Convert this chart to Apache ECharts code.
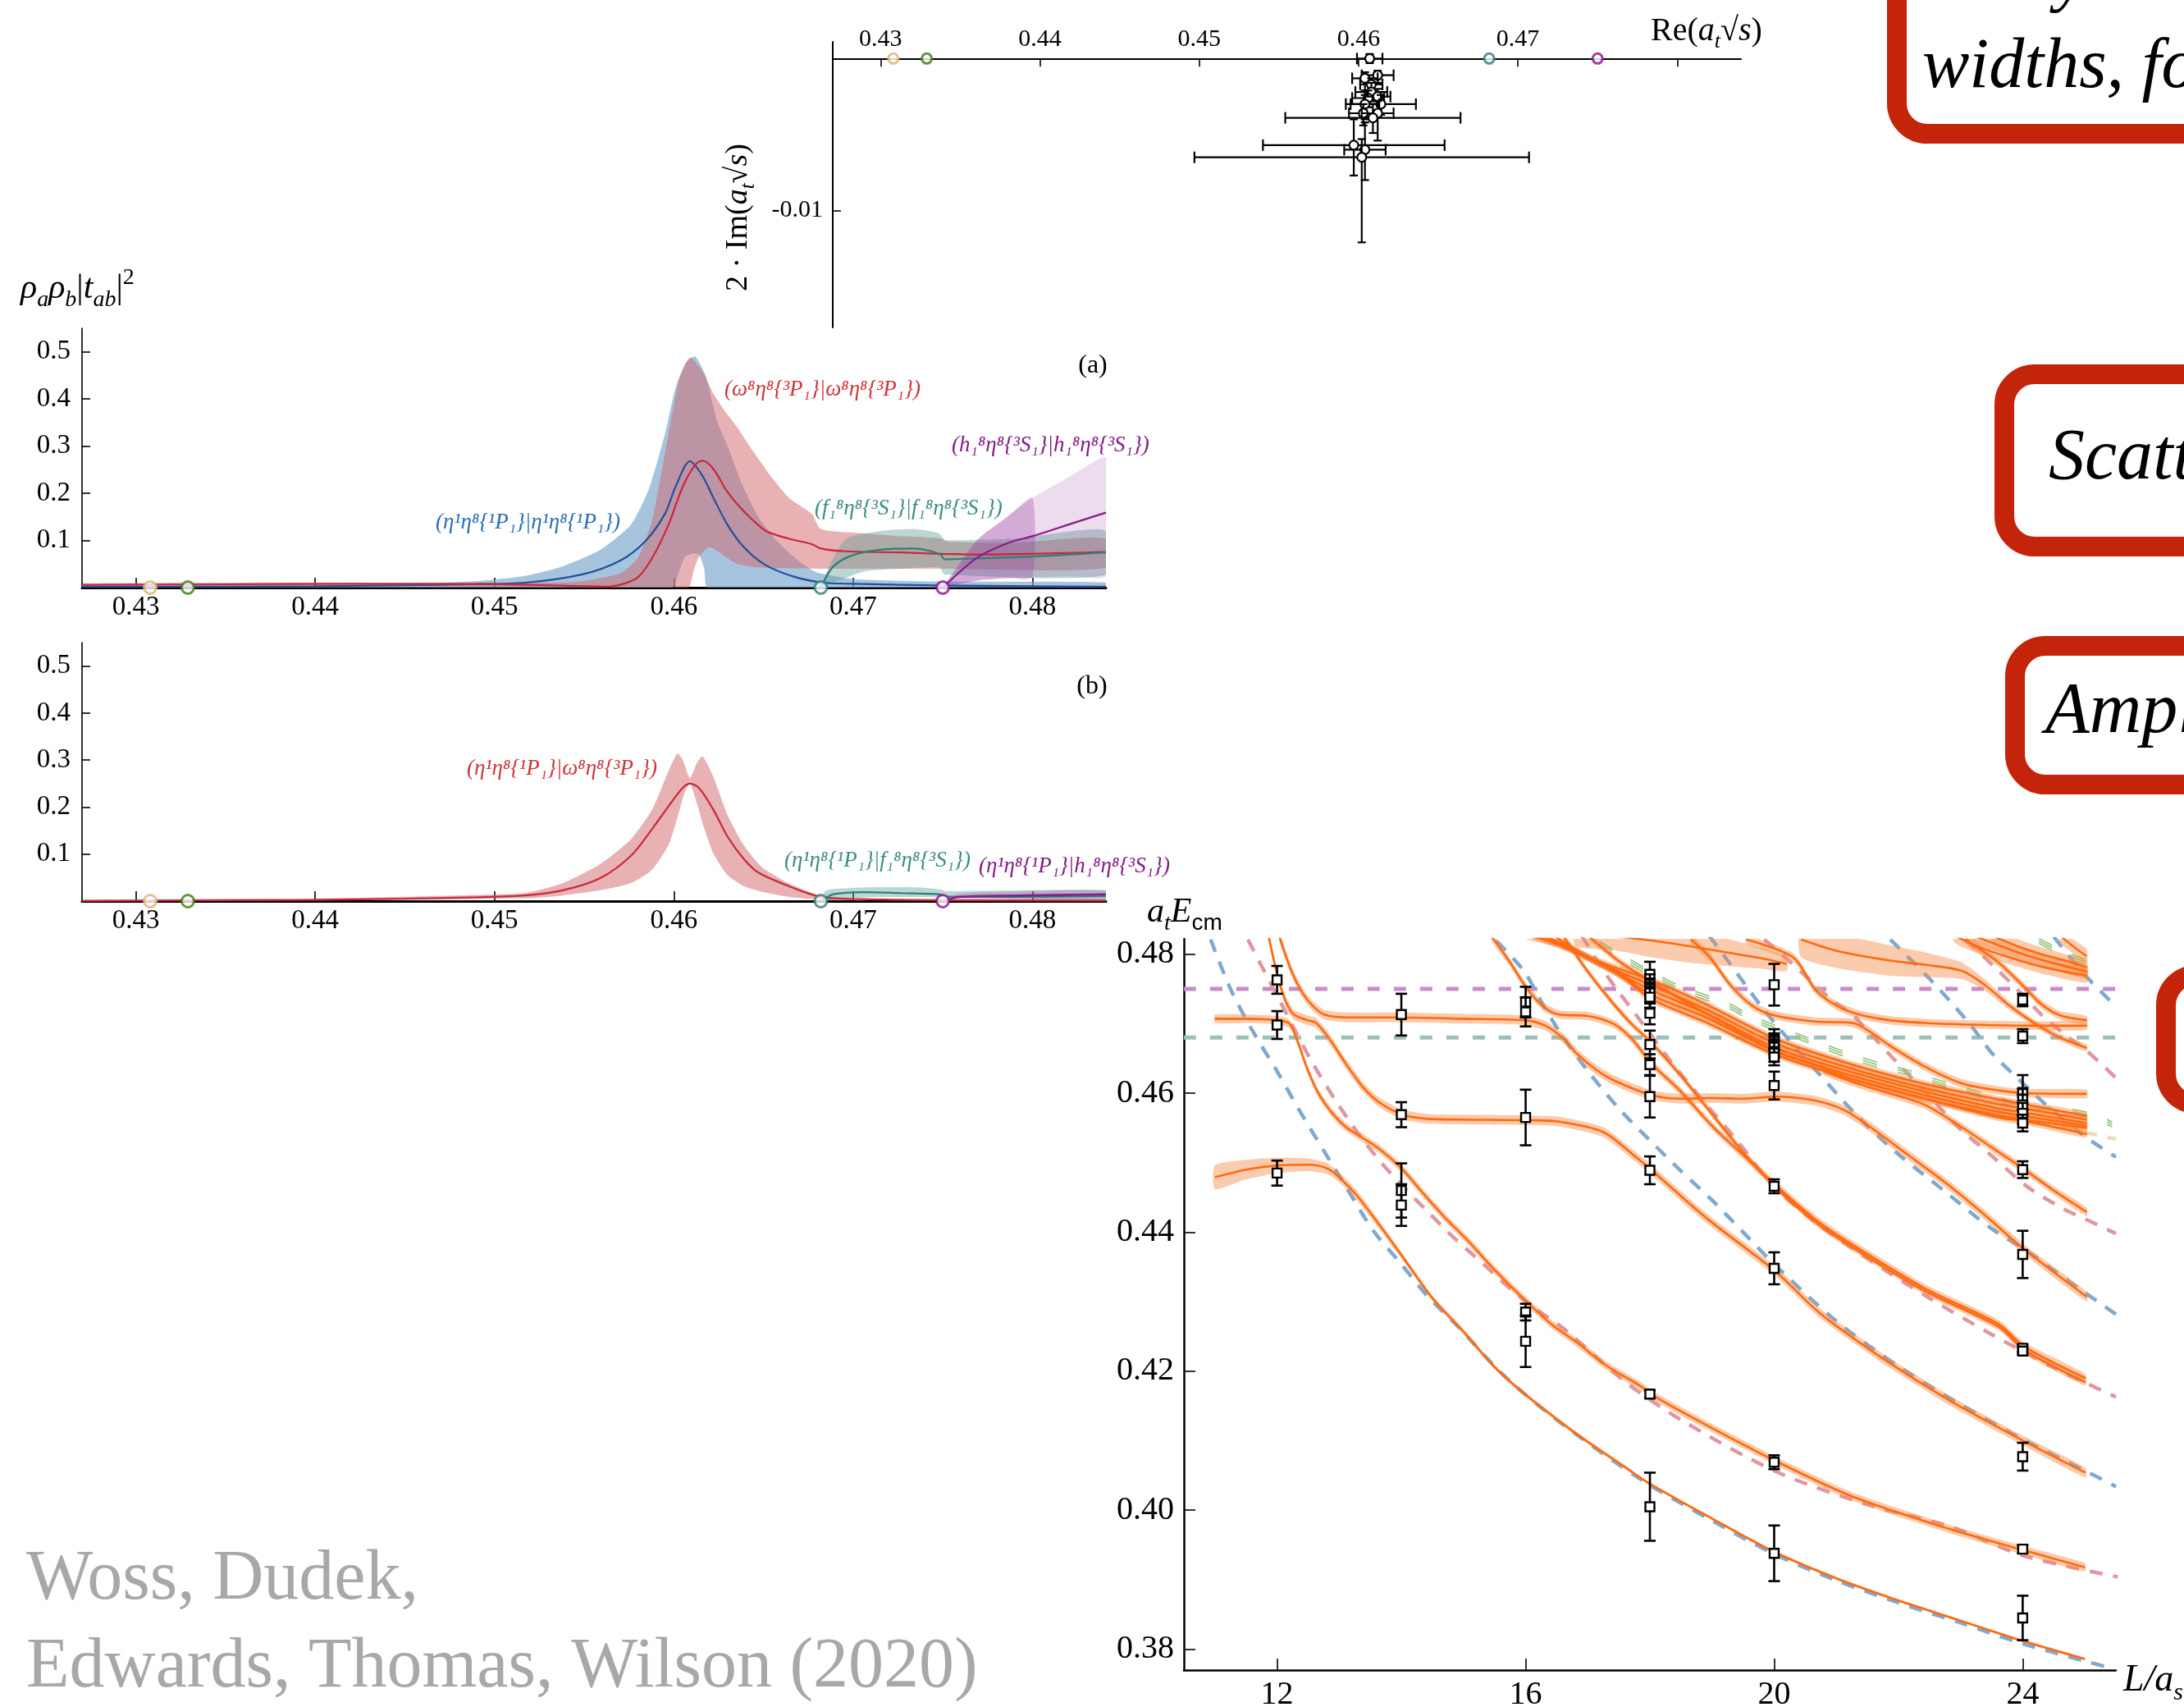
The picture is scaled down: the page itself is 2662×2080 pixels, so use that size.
<!DOCTYPE html>
<html><head><meta charset="utf-8">
<script src="https://cdn.jsdelivr.net/npm/echarts@6/dist/echarts.min.js"></script>
<style>html,body{margin:0;padding:0;background:#fff}#c{width:2662px;height:2080px}</style>
</head><body><div id="c"></div>
<script>
const FONT = "'Liberation Serif','DejaVu Serif',serif";

// ---------- pole plot (top) ----------
const poleRe      = [0.4607, 0.4612, 0.4604, 0.4608, 0.4608, 0.4606, 0.4612, 0.4614, 0.4604, 0.4603, 0.4612, 0.4609, 0.4597, 0.4604, 0.4602];
const poleIm      = [0, -0.0011, -0.0013, -0.0017, -0.0022, -0.0026, -0.0025, -0.0030, -0.0030, -0.0036, -0.0036, -0.0039, -0.0057, -0.0060, -0.0065];
const poleReErr   = [0.0008, 0.0010, 0.0008, 0.0007, 0.0010, 0.0010, 0.0008, 0.0022, 0.0009, 0.0009, 0.0010, 0.0055, 0.0057, 0.0013, 0.0105];
const poleImErrUp = [0.0003, 0.0003, 0.0004, 0.0004, 0.0006, 0.0005, 0.0005, 0.0006, 0.0006, 0.0006, 0.0008, 0.0009, 0.0017, 0.0018, 0.0012];
const poleImErrDn = [0.0003, 0.0005, 0.0008, 0.0005, 0.0006, 0.0006, 0.0005, 0.0007, 0.0010, 0.0008, 0.0018, 0.0010, 0.0020, 0.0020, 0.0056];
const poleTicks   = [0.43, 0.44, 0.45, 0.46, 0.47, 0.48];
const poleLabels  = [0.43, 0.44, 0.45, 0.46, 0.47];

// thresholds
const thrX      = [0.4308, 0.4329, 0.4682, 0.4750];
const thrColors = ['#dcb36e', '#3c7a10', '#2e7d7a', '#8c0f8c'];

// ---------- panel (a) ----------
const aBlueLineX = [0.427, 0.435, 0.440, 0.445, 0.4485, 0.4517, 0.4549, 0.4570, 0.4584, 0.4595, 0.4601, 0.4609, 0.4616, 0.4622, 0.4630, 0.4639, 0.4651, 0.4668, 0.4685, 0.4706, 0.4748, 0.4800, 0.4841];
const aBlueLineY = [0.002, 0.002, 0.003, 0.005, 0.007, 0.0104, 0.028, 0.057, 0.098, 0.156, 0.214, 0.268, 0.237, 0.191, 0.133, 0.086, 0.048, 0.022, 0.010, 0.0076, 0.0047, 0.003, 0.002];
const aBlueUpX = [0.427, 0.440, 0.445, 0.449, 0.4517, 0.4538, 0.4559, 0.4576, 0.4586, 0.4595, 0.4601, 0.4607, 0.4612, 0.4618, 0.4624, 0.4630, 0.4638, 0.4647, 0.4655, 0.4664, 0.4672, 0.4680, 0.4700, 0.4750, 0.4841];
const aBlueUpY = [0.004, 0.005, 0.008, 0.014, 0.025, 0.045, 0.080, 0.133, 0.208, 0.325, 0.424, 0.478, 0.490, 0.447, 0.354, 0.300, 0.220, 0.150, 0.110, 0.075, 0.050, 0.032, 0.018, 0.013, 0.011];
const aBlueLoX = [0.427, 0.4599, 0.4603, 0.4606, 0.4610, 0.4614, 0.4617, 0.4619, 0.4841];
const aBlueLoY = [0, 0, 0.035, 0.065, 0.072, 0.070, 0.040, 0, 0];
const aRedLineX = [0.427, 0.435, 0.4418, 0.4470, 0.4514, 0.4550, 0.4563, 0.4572, 0.4580, 0.4588, 0.4597, 0.4605, 0.4612, 0.4616, 0.4622, 0.4630, 0.4639, 0.4651, 0.4664, 0.4677, 0.4682, 0.4696, 0.4727, 0.4750, 0.4769, 0.4841];
const aRedLineY = [0.006, 0.007, 0.008, 0.008, 0.0064, 0.003, 0.002, 0.008, 0.022, 0.063, 0.133, 0.214, 0.261, 0.269, 0.252, 0.2025, 0.162, 0.121, 0.104, 0.092, 0.083, 0.077, 0.0745, 0.0716, 0.0704, 0.0756];
const aRedUpX = [0.427, 0.440, 0.450, 0.4545, 0.4570, 0.4580, 0.4588, 0.4597, 0.4603, 0.4609, 0.4616, 0.4622, 0.4628, 0.4635, 0.4643, 0.4654, 0.4664, 0.4677, 0.4681, 0.4685, 0.4706, 0.4727, 0.4750, 0.4752, 0.4790, 0.4841];
const aRedUpY = [0.009, 0.011, 0.010, 0.012, 0.030, 0.063, 0.144, 0.325, 0.441, 0.488, 0.458, 0.412, 0.377, 0.342, 0.296, 0.237, 0.191, 0.156, 0.127, 0.121, 0.115, 0.109, 0.104, 0.098, 0.095, 0.104];
const aRedLoX = [0.427, 0.440, 0.450, 0.4545, 0.4608, 0.4611, 0.4614, 0.4620, 0.4635, 0.4650, 0.4680, 0.4750, 0.4841];
const aRedLoY = [0.003, 0.004, 0.002, 0.0, 0.0, 0.035, 0.065, 0.086, 0.051, 0.042, 0.040, 0.040, 0.042];
const aTealLineX = [0.4682, 0.4689, 0.4700, 0.4717, 0.4733, 0.4744, 0.4749, 0.4751, 0.4769, 0.4800, 0.4841];
const aTealLineY = [0.0, 0.045, 0.069, 0.081, 0.083, 0.077, 0.069, 0.060, 0.062, 0.066, 0.0745];
const aTealUpX = [0.4682, 0.4686, 0.4696, 0.4717, 0.4735, 0.4748, 0.4751, 0.4790, 0.4841];
const aTealUpY = [0, 0.040, 0.1035, 0.121, 0.124, 0.115, 0.101, 0.104, 0.121];
const aTealLoX = [0.4682, 0.4706, 0.4727, 0.4748, 0.4751, 0.4841];
const aTealLoY = [0, 0.034, 0.040, 0.043, 0.028, 0.027];
const aPurpLineX = [0.4750, 0.4769, 0.4786, 0.4800, 0.4822, 0.4841];
const aPurpLineY = [0, 0.063, 0.094, 0.109, 0.136, 0.159];
const aPurpUpX = [0.4750, 0.4769, 0.4786, 0.4800, 0.4822, 0.4841];
const aPurpUpY = [0, 0.100, 0.150, 0.190, 0.238, 0.275];
const aPurpLoY = [0, 0.015, 0.020, 0.022, 0.024, 0.025];
const aPurpDarkX = [0.4750, 0.4769, 0.4786, 0.4800];
const aPurpDarkUp = [0, 0.100, 0.150, 0.190];
const aPurpDarkLo = [0, 0.015, 0.020, 0.022];

// ---------- panel (b) ----------
const bRedLineX = [0.427, 0.440, 0.445, 0.449, 0.4517, 0.4538, 0.4559, 0.4576, 0.4588, 0.4599, 0.4605, 0.4609, 0.4614, 0.4622, 0.4630, 0.4639, 0.4647, 0.4664, 0.4682, 0.4706, 0.4751, 0.4841];
const bRedLineY = [0.0005, 0.003, 0.005, 0.008, 0.012, 0.023, 0.049, 0.096, 0.154, 0.212, 0.241, 0.250, 0.241, 0.195, 0.137, 0.090, 0.061, 0.032, 0.009, 0.004, 0.002, 0.001];
const bRedUpX = [0.4361, 0.440, 0.445, 0.449, 0.4517, 0.4538, 0.4559, 0.4576, 0.4588, 0.4597, 0.4602, 0.4605, 0.4609, 0.4613, 0.4616, 0.4622, 0.4630, 0.4639, 0.4649, 0.4664, 0.4682, 0.4706];
const bRedUpY = [0.001, 0.005, 0.009, 0.013, 0.017, 0.038, 0.079, 0.131, 0.195, 0.276, 0.314, 0.300, 0.262, 0.294, 0.308, 0.265, 0.183, 0.119, 0.073, 0.038, 0.012, 0.004];
const bRedLoX = [0.4361, 0.4517, 0.4538, 0.4559, 0.4576, 0.4588, 0.4597, 0.4602, 0.4606, 0.4609, 0.4613, 0.4616, 0.4622, 0.4630, 0.4639, 0.4649, 0.4664, 0.4682, 0.4706];
const bRedLoY = [0, 0.006, 0.012, 0.023, 0.038, 0.067, 0.119, 0.177, 0.230, 0.250, 0.207, 0.166, 0.102, 0.055, 0.032, 0.020, 0.009, 0.003, 0.001];
const bTealLineX = [0.4682, 0.4689, 0.4706, 0.4727, 0.4748, 0.4751, 0.4790, 0.4841];
const bTealLineY = [0, 0.0145, 0.019, 0.017, 0.0145, 0.010, 0.009, 0.0105];
const bTealUpX = [0.4682, 0.4685, 0.4706, 0.4737, 0.4749, 0.4751, 0.4841];
const bTealUpY = [0, 0.023, 0.029, 0.029, 0.025, 0.0215, 0.023];
const bTealLoX = [0.4682, 0.4706, 0.4748, 0.4841];
const bTealLoY = [0, 0.008, 0.008, 0.003];
const bPurpLineX = [0.4750, 0.4759, 0.4790, 0.4841];
const bPurpLineY = [0, 0.0087, 0.0116, 0.0145];
const bPurpUpY = [0, 0.016, 0.020, 0.023];
const bPurpLoY = [0, 0.003, 0.004, 0.003];
const panelTicks = [0.43, 0.44, 0.45, 0.46, 0.47, 0.48];
const panelYTicks = [0.1, 0.2, 0.3, 0.4, 0.5];

// ---------- energy levels (bottom right) ----------
const eYTicks = [0.38, 0.40, 0.42, 0.44, 0.46, 0.48];
const eXTicks = [12, 16, 20, 24];
const epL = [12,12,12, 14,14,14,14, 16,16,16,16,16, 18,18,18,18,18,18,18,18,18,18,18,18, 20,20,20,20,20,20,20,20,20,20,20, 24,24,24,24,24,24,24,24,24,24,24,24,24,24];
const epE = [0.4763,0.4698,0.4485, 0.4713,0.4569,0.4460,0.4439, 0.4731,0.4717,0.4565,0.4285,0.4243, 0.4771,0.4756,0.4750,0.4744,0.4738,0.4715,0.4670,0.4641,0.4595,0.4489,0.4167,0.4005, 0.4756,0.4677,0.4671,0.4666,0.4660,0.4652,0.4611,0.4466,0.4348,0.4069,0.3938, 0.4734,0.4682,0.4601,0.4591,0.4583,0.4571,0.4557,0.4490,0.4368,0.4233,0.4229,0.4077,0.3944,0.3845];
const epErr = [0.0020,0.0020,0.0018, 0.0030,0.0018,0.0039,0.0030, 0.0022,0.0021,0.0040,0.0012,0.0037, 0.0018,0.0015,0.0015,0.0015,0.0015,0.0016,0.0020,0.0015,0.0030,0.0020,0.0005,0.0049, 0.0030,0.0015,0.0015,0.0015,0.0015,0.0012,0.0020,0.0010,0.0023,0.0010,0.0040, 0.0009,0.0010,0.0025,0.0015,0.0015,0.0015,0.0012,0.0012,0.0034,0.0005,0.0005,0.0020,0.0006,0.0032];

const oA_L = [11.0, 11.5, 12.0, 12.5, 12.8, 13.0, 13.3, 13.65, 14.0, 14.5, 15.0, 15.5, 16.0, 16.8, 17.6, 18.0, 19.0, 20.0, 21.0, 22.0, 23.0, 24.0, 25.0];
const oA_E = [0.4479, 0.4490, 0.4496, 0.4497, 0.4492, 0.4479, 0.4451, 0.4410, 0.4367, 0.4305, 0.4257, 0.4206, 0.4166, 0.4111, 0.4062, 0.4038, 0.3988, 0.3940, 0.3902, 0.3870, 0.3841, 0.3812, 0.3786];
const oA_W = [0.0017, 0.0014, 0.0011, 0.0009, 0.0008, 0.0007, 0.0007, 0.0006, 0.0005, 0.0004, 0.0004, 0.0003, 0.0003, 0.0003, 0.0003, 0.0002, 0.0002, 0.0002, 0.0002, 0.0002, 0.0002, 0.0002, 0.0002];
const oB_L = [11.0, 11.5, 12.0, 12.2, 12.32, 12.49, 12.67, 12.89, 13.11, 13.37, 13.64, 14.0, 14.34, 14.69, 15.09, 15.53, 15.97, 16.41, 16.83, 17.3, 17.86, 18.03, 18.9, 20.02, 21.25, 22.82, 24.03, 25.0];
const oB_E = [0.4707, 0.4707, 0.4705, 0.4700, 0.4677, 0.4634, 0.4599, 0.4571, 0.4551, 0.4536, 0.4520, 0.4492, 0.4457, 0.4422, 0.4386, 0.4343, 0.4304, 0.4268, 0.4241, 0.4208, 0.4178, 0.4166, 0.4123, 0.4071, 0.4020, 0.3973, 0.3942, 0.3918];
const oB_W = 0.0006;
const oC_L = [12.03, 12.23, 12.41, 12.58, 12.76, 13.11, 14.0, 15.0, 15.97, 16.32, 16.63, 16.81, 17.13, 17.43, 18.03, 18.5, 19.0, 19.5, 20.03, 20.67, 21.14, 21.55, 22.14, 22.73, 23.32, 24.03, 25.03];
const oC_E = [0.4827, 0.4776, 0.4744, 0.4725, 0.4713, 0.4709, 0.4709, 0.4707, 0.4705, 0.4697, 0.4677, 0.4658, 0.4634, 0.4618, 0.4597, 0.4592, 0.4593, 0.4592, 0.4595, 0.4589, 0.4575, 0.4551, 0.4512, 0.4473, 0.4430, 0.4375, 0.4307];
const oC_W = 0.0007;
const oC2_L = [16.6, 17.0, 17.4, 17.7, 18.03, 18.5, 19.0, 19.5, 20.03, 20.67, 21.26, 22.43, 23.61, 24.03, 25.01];
const oC2_E = [0.4827, 0.4775, 0.4730, 0.4700, 0.4672, 0.4625, 0.4570, 0.4515, 0.4464, 0.4414, 0.4378, 0.4315, 0.4264, 0.4230, 0.4184];
const oC2_W = 0.0005;
const oC3_L = [15.44, 15.75, 16.01, 16.28, 16.54, 17.0, 17.43, 17.72, 18.03, 18.49, 19.02, 19.49, 20.03, 20.67, 21.26, 22.43, 23.61, 24.03, 25.01];
const oC3_E = [0.4827, 0.4788, 0.4752, 0.4725, 0.4713, 0.4711, 0.4699, 0.4677, 0.4642, 0.4603, 0.4551, 0.4512, 0.4467, 0.4418, 0.4382, 0.4319, 0.4268, 0.4235, 0.4190];
const oC3_W = 0.0006;
const oD_L = [11.86, 12.01, 12.14, 12.27, 12.49, 12.63, 12.85, 13.11, 13.37, 13.64, 14.02, 14.43, 15.0, 16.03, 16.54, 17.25, 17.72, 18.03, 18.9, 20.03, 20.73, 21.77, 22.82, 24.03, 25.01];
const oD_E = [0.4827, 0.4768, 0.4732, 0.4713, 0.4705, 0.4701, 0.4677, 0.4642, 0.4610, 0.4587, 0.4569, 0.4563, 0.4562, 0.4561, 0.4559, 0.4544, 0.4512, 0.4489, 0.4421, 0.4343, 0.4284, 0.4217, 0.4158, 0.4099, 0.4054];
const oD_W = 0.0007;
const oE2_L = [20.8, 21.4, 22.0, 22.43, 23.02, 23.5, 24.03, 24.5, 25.03];
const oE2_E = [0.4632, 0.4612, 0.4596, 0.4583, 0.4551, 0.4522, 0.4490, 0.4460, 0.4429];
const oE2_W = 0.0006;
const oT1_L = [16.8, 17.4, 18.0, 18.6, 19.2, 19.8, 20.2];
const oT1_E = [0.4830, 0.4826, 0.4820, 0.4812, 0.4803, 0.4794, 0.4786];
const oT1_W = [0.0018, 0.0020, 0.0024, 0.0024, 0.0020, 0.0015, 0.0010];
const oT2_L = [18.66, 18.96, 19.3, 19.66, 20.0, 20.67, 21.26, 21.55, 21.85, 22.43, 23.02, 23.61, 24.03, 25.03];
const oT2_E = [0.4821, 0.4796, 0.4755, 0.4725, 0.4712, 0.4703, 0.4701, 0.4688, 0.4669, 0.4638, 0.4614, 0.4604, 0.4600, 0.4599];
const oT2_W = 0.0006;
const oT3_L = [19.55, 20.31, 20.67, 21.02, 21.37, 21.85, 22.43, 23.02, 24.2, 25.03];
const oT3_E = [0.4821, 0.4795, 0.4748, 0.4725, 0.4713, 0.4705, 0.4701, 0.4699, 0.4697, 0.4697];
const oT3_W = 0.0006;
const oT4_L = [20.43, 21.0, 21.85, 22.4, 23.02, 23.4, 23.8, 24.2, 24.6, 25.03];
const oT4_E = [0.4821, 0.4805, 0.4791, 0.4785, 0.4776, 0.4755, 0.4725, 0.4700, 0.4680, 0.4665];
const oT4_W = [0.0025, 0.0025, 0.0022, 0.0018, 0.0012, 0.0008, 0.0006, 0.0005, 0.0005, 0.0005];
const oT5_L = [23.08, 23.61, 24.0, 24.3, 24.6, 25.03];
const oT5_E = [0.4821, 0.4788, 0.4755, 0.4728, 0.4712, 0.4705];
const oT5_W = 0.0006;
const oBd1_L = [16.0, 16.54, 17.13, 18.03, 18.9, 20.03, 21.26, 22.43, 23.61, 24.03, 25.03];
const oBd1_E = [0.4827, 0.4815, 0.4791, 0.4762, 0.4728, 0.4678, 0.4641, 0.4613, 0.4591, 0.4584, 0.4567];
const oBd2_L = [16.1, 16.6, 17.2, 18.03, 18.9, 20.03, 21.26, 22.43, 23.61, 24.03, 25.03];
const oBd2_E = [0.4827, 0.4811, 0.4786, 0.4755, 0.4721, 0.4671, 0.4635, 0.4607, 0.4584, 0.4578, 0.4562];
const oBd3_L = [16.2, 16.7, 17.3, 18.03, 18.9, 20.03, 21.26, 22.43, 23.61, 24.03, 25.03];
const oBd3_E = [0.4827, 0.4808, 0.4781, 0.4748, 0.4715, 0.4665, 0.4630, 0.4602, 0.4578, 0.4572, 0.4557];
const oBd4_L = [16.3, 16.8, 17.4, 18.03, 18.9, 20.03, 21.26, 22.43, 23.61, 24.03, 25.03];
const oBd4_E = [0.4827, 0.4805, 0.4776, 0.4741, 0.4709, 0.4660, 0.4625, 0.4597, 0.4573, 0.4567, 0.4553];
const oBd5_L = [16.45, 16.9, 17.5, 18.03, 18.9, 20.03, 21.26, 22.43, 23.61, 24.03, 25.03];
const oBd5_E = [0.4827, 0.4801, 0.4771, 0.4735, 0.4702, 0.4655, 0.4620, 0.4592, 0.4568, 0.4562, 0.4550];
const oBd6_L = [17.0, 17.5, 18.03, 18.9, 20.03, 20.67, 21.26, 22.43, 23.61, 24.03, 25.03];
const oBd6_E = [0.4827, 0.4790, 0.4760, 0.4715, 0.4660, 0.4640, 0.4620, 0.4592, 0.4565, 0.4560, 0.4541];
const oBd_W = 0.0005;
const oTR1_L = [22.9, 23.3, 23.8, 24.3, 25.03];
const oTR1_E = [0.4827, 0.4810, 0.4795, 0.4782, 0.4769];
const oTR2_L = [23.2, 23.6, 24.0, 24.5, 25.03];
const oTR2_E = [0.4827, 0.4813, 0.4800, 0.4787, 0.4775];
const oTR3_L = [23.5, 23.9, 24.3, 24.7, 25.03];
const oTR3_E = [0.4827, 0.4812, 0.4800, 0.4790, 0.4781];
const oTR4_L = [24.6, 24.8, 25.03];
const oTR4_E = [0.4827, 0.4812, 0.4797];
const oTR_W = 0.0010;

// non-interacting (dashed) curves
const bl1_L = [10.93, 11.26, 11.61, 12.01, 12.36, 12.76, 13.11, 13.55, 13.99, 14.43, 14.87, 15.66, 16.5, 17.86, 19.0, 20.0, 21.0, 22.0, 23.0, 24.0, 25.0, 25.45];
const bl1_E = [0.4821, 0.4748, 0.4689, 0.4630, 0.4575, 0.4516, 0.4465, 0.4402, 0.4355, 0.4307, 0.4268, 0.4193, 0.4130, 0.4044, 0.3985, 0.3937, 0.3899, 0.3867, 0.3838, 0.3808, 0.3783, 0.3772];
const bl2_L = [15.53, 15.97, 16.32, 16.63, 17.0, 17.5, 18.0, 18.5, 19.0, 19.5, 20.0, 21.0, 22.0, 23.0, 24.0, 25.0, 25.5];
const bl2_E = [0.4819, 0.4776, 0.4721, 0.4677, 0.4632, 0.4578, 0.4532, 0.4488, 0.4446, 0.4400, 0.4354, 0.4272, 0.4207, 0.4152, 0.4102, 0.4057, 0.4034];
const bl3_L = [21.87, 22.55, 23.17, 23.5, 23.91, 24.38, 25.03, 25.5];
const bl3_E = [0.4821, 0.4760, 0.4697, 0.4658, 0.4622, 0.4583, 0.4536, 0.4508];
const bl4_L = [24.5, 25.0, 25.5];
const bl4_E = [0.4825, 0.4770, 0.4725];
const bl5_L = [18.95, 19.25, 19.81, 20.3, 20.72, 21.34, 22.0, 22.73, 23.5, 24.03, 24.5, 25.0, 25.5];
const bl5_E = [0.4827, 0.4791, 0.4723, 0.4670, 0.4628, 0.4567, 0.4512, 0.4460, 0.4405, 0.4375, 0.4345, 0.4313, 0.4282];
const pk1_L = [11.53, 11.79, 12.05, 12.32, 12.58, 12.93, 13.29, 13.64, 13.99, 14.43, 14.87, 15.31, 15.75, 16.19, 16.63, 17.6, 18.5, 20.02, 21.5, 22.82, 24.0, 25.53];
const pk1_E = [0.4821, 0.4776, 0.4732, 0.4685, 0.4642, 0.4591, 0.4544, 0.4504, 0.4469, 0.4429, 0.4390, 0.4355, 0.4319, 0.4288, 0.4260, 0.4185, 0.4130, 0.4056, 0.4008, 0.3977, 0.3935, 0.3904];
const pk2_L = [19.84, 20.08, 20.61, 20.9, 21.26, 21.43, 22.0, 22.5, 23.0, 23.5, 24.08, 24.67, 25.03, 25.5];
const pk2_E = [0.4821, 0.4803, 0.4760, 0.4736, 0.4713, 0.4697, 0.4642, 0.4595, 0.4548, 0.4510, 0.4465, 0.4433, 0.4418, 0.4398];
const pk3_L = [23.08, 23.61, 23.97, 24.3, 24.67, 25.03, 25.5];
const pk3_E = [0.4821, 0.4776, 0.4744, 0.4713, 0.4685, 0.4661, 0.4622];
const pk4_L = [16.9, 17.3, 17.8, 18.3, 18.8, 19.4, 20.0, 20.7, 21.5, 22.5, 23.5, 24.5, 25.5];
const pk4_E = [0.4827, 0.4770, 0.4710, 0.4650, 0.4595, 0.4532, 0.4465, 0.4412, 0.4362, 0.4305, 0.4253, 0.4205, 0.4163];
const g1_L = [17.19, 18.31, 19.31, 19.6, 20.46, 20.84, 21.26, 21.7, 22.14, 22.55, 23.79, 24.29, 24.76, 25.2, 25.44];
const g1_E = [0.4815, 0.4758, 0.4724, 0.4709, 0.4679, 0.4666, 0.4652, 0.4640, 0.4630, 0.4618, 0.4586, 0.4577, 0.4574, 0.4565, 0.4555];
const g2_L = [24.26, 24.62, 24.94, 25.32];
const g2_E = [0.4819, 0.4803, 0.4791, 0.4785];
const tan_L = [22.4, 23.0, 23.7, 24.4, 25.03, 25.5];
const tan_E = [0.4605, 0.4590, 0.4572, 0.4555, 0.4543, 0.4534];
const thrPurpleE = 0.475;
const thrTealE = 0.468;
const eLRange = [10.5, 25.5];

// ================= build =================
const chart = echarts.init(document.getElementById('c'), null, {renderer: 'canvas', width: 2662, height: 2080});

function pairs(xs, ys) { return xs.map((x, i) => [x, ys[i]]); }
function lineS(xs, ys, color, width, ai, extra) {
  return Object.assign({type: 'line', xAxisIndex: ai, yAxisIndex: ai, data: pairs(xs, ys), symbol: 'none', showSymbol: false,
    smooth: 0.3, lineStyle: {color: color, width: width}, silent: true, animation: false, z: 5}, extra || {});
}
function bandS(xu, yu, xl, yl, fill, ai, z) {
  return {type: 'custom', xAxisIndex: ai, yAxisIndex: ai, clip: true, silent: true, animation: false, z: z || 2,
    data: [[xu[0], yu[0]]],
    renderItem: function (p, api) {
      const pts = [];
      for (let i = 0; i < xu.length; i++) pts.push(api.coord([xu[i], yu[i]]));
      for (let i = xl.length - 1; i >= 0; i--) pts.push(api.coord([xl[i], yl[i]]));
      return {type: 'polygon', shape: {points: pts, smooth: 0.2}, style: {fill: fill}};
    }};
}
function tickAxis(o) {
  return {
    type: 'value', gridIndex: o.g, min: o.min, max: o.max, position: o.pos,
    splitLine: {show: false},
    axisLine: {show: true, onZero: !!o.onZero, lineStyle: {color: '#000', width: o.lw || 2}},
    axisTick: {show: true, inside: true, length: o.tl || 10, customValues: o.ticks, lineStyle: {color: '#000', width: 1.6}},
    axisLabel: {show: true, customValues: o.labels, formatter: o.fmt, color: '#000', fontFamily: FONT, fontSize: o.fs, margin: o.margin}
  };
}

const series = [];

// ---- pole plot ----
series.push({type: 'custom', xAxisIndex: 0, yAxisIndex: 0, clip: false, z: 20, silent: true, animation: false,
  data: poleRe.map((r, i) => [r, poleIm[i], poleReErr[i], poleImErrUp[i], poleImErrDn[i]]),
  renderItem: function (p, api) {
    const x = api.value(0), y = api.value(1), ex = api.value(2), eu = api.value(3), ed = api.value(4);
    const c = api.coord([x, y]), l = api.coord([x - ex, y]), r = api.coord([x + ex, y]);
    const t = api.coord([x, y + eu]), b = api.coord([x, y - ed]);
    const st = {stroke: '#000', lineWidth: 2.2};
    return {type: 'group', children: [
      {type: 'line', shape: {x1: l[0], y1: c[1], x2: r[0], y2: c[1]}, style: st},
      {type: 'line', shape: {x1: l[0], y1: c[1] - 7, x2: l[0], y2: c[1] + 7}, style: st},
      {type: 'line', shape: {x1: r[0], y1: c[1] - 7, x2: r[0], y2: c[1] + 7}, style: st},
      {type: 'line', shape: {x1: c[0], y1: t[1], x2: c[0], y2: b[1]}, style: st},
      {type: 'line', shape: {x1: c[0] - 5, y1: t[1], x2: c[0] + 5, y2: t[1]}, style: st},
      {type: 'line', shape: {x1: c[0] - 5, y1: b[1], x2: c[0] + 5, y2: b[1]}, style: st},
      {type: 'circle', shape: {cx: c[0], cy: c[1], r: 5.5}, style: {fill: '#fff', stroke: '#000', lineWidth: 2.2}}
    ]};
  }});
function thrScatter(ai, size) {
  return {type: 'scatter', xAxisIndex: ai, yAxisIndex: ai, clip: false, z: 30, silent: true, animation: false,
    symbol: 'circle', symbolSize: size,
    data: thrX.map((x, i) => ({value: [x, 0], itemStyle: {color: '#fff', borderColor: thrColors[i], borderWidth: 3}}))};
}
series.push(thrScatter(0, 12));

// ---- panel (a) ----
series.push(bandS(aBlueUpX, aBlueUpY, aBlueLoX, aBlueLoY, 'rgba(120,165,205,0.65)', 1, 2));
series.push(bandS(aRedUpX, aRedUpY, aRedLoX, aRedLoY, 'rgba(210,100,105,0.5)', 1, 3));
series.push(bandS(aTealUpX, aTealUpY, aTealLoX, aTealLoY, 'rgba(90,160,150,0.42)', 1, 3));
series.push(bandS(aPurpUpX, aPurpUpY, aPurpUpX, aPurpLoY, 'rgba(160,80,170,0.2)', 1, 3));
series.push(bandS(aPurpDarkX, aPurpDarkUp, aPurpDarkX, aPurpDarkLo, 'rgba(150,60,160,0.3)', 1, 3));
series.push(lineS(aBlueLineX, aBlueLineY, '#22509a', 2.2, 1));
series.push(lineS(aRedLineX, aRedLineY, '#c8283a', 2.2, 1));
series.push(lineS(aTealLineX, aTealLineY, '#2f7f77', 2.2, 1));
series.push(lineS(aPurpLineX, aPurpLineY, '#8b1a8b', 2.2, 1));
series.push(thrScatter(1, 15));

// ---- panel (b) ----
series.push(bandS(bRedUpX, bRedUpY, bRedLoX, bRedLoY, 'rgba(210,100,105,0.5)', 2, 3));
series.push(bandS(bTealUpX, bTealUpY, bTealLoX, bTealLoY, 'rgba(90,160,150,0.42)', 2, 3));
series.push(bandS(bPurpLineX, bPurpUpY, bPurpLineX, bPurpLoY, 'rgba(160,80,170,0.3)', 2, 3));
series.push(lineS(bRedLineX, bRedLineY, '#c8283a', 2.2, 2));
series.push(lineS(bTealLineX, bTealLineY, '#2f7f77', 2.2, 2));
series.push(lineS(bPurpLineX, bPurpLineY, '#8b1a8b', 2.6, 2));
series.push(thrScatter(2, 15));

// ---- energy plot ----
function dashS(xs, ys, color, width, dash, z) {
  return lineS(xs, ys, color, width, 3, {lineStyle: {color: color, width: width, type: dash}, z: z || 1});
}
series.push(dashS(eLRange, [thrPurpleE, thrPurpleE], '#c98bcb', 5, [15, 17], 1));
series.push(dashS(eLRange, [thrTealE, thrTealE], '#9cbfba', 5, [15, 17], 1));
[[bl1_L, bl1_E], [bl2_L, bl2_E], [bl3_L, bl3_E], [bl4_L, bl4_E], [bl5_L, bl5_E]].forEach(d => series.push(dashS(d[0], d[1], '#7fa9d1', 4.5, [16, 13], 1)));
[[pk1_L, pk1_E], [pk2_L, pk2_E], [pk3_L, pk3_E], [pk4_L, pk4_E]].forEach(d => series.push(dashS(d[0], d[1], '#e0979f', 4.5, [16, 13], 1)));
series.push(dashS(tan_L, tan_E, '#e9dcb6', 4.5, [16, 13], 1));
[[g1_L, g1_E], [g2_L, g2_E]].forEach(d => {
  [-0.00035, 0, 0.00035].forEach(off => series.push(dashS(d[0], d[1].map(v => v + off), '#93c278', 1.6, [18, 26], 1)));
});

const orangeCurves = [
  [oA_L, oA_E, oA_W], [oB_L, oB_E, oB_W], [oC_L, oC_E, oC_W], [oC2_L, oC2_E, oC2_W], [oC3_L, oC3_E, oC3_W],
  [oD_L, oD_E, oD_W], [oE2_L, oE2_E, oE2_W], [oT1_L, oT1_E, oT1_W], [oT2_L, oT2_E, oT2_W], [oT3_L, oT3_E, oT3_W], [oT4_L, oT4_E, oT4_W],
  [oT5_L, oT5_E, oT5_W], [oBd1_L, oBd1_E, oBd_W], [oBd2_L, oBd2_E, oBd_W], [oBd3_L, oBd3_E, oBd_W],
  [oBd4_L, oBd4_E, oBd_W], [oBd5_L, oBd5_E, oBd_W], [oBd6_L, oBd6_E, oBd_W],
  [oTR1_L, oTR1_E, oTR_W], [oTR2_L, oTR2_E, oTR_W], [oTR3_L, oTR3_E, oTR_W], [oTR4_L, oTR4_E, oTR_W]
];
orangeCurves.forEach(c => {
  const w = i => (Array.isArray(c[2]) ? c[2][i] : c[2]);
  const up = c[1].map((v, i) => v + w(i));
  const lo = c[1].map((v, i) => v - w(i));
  series.push(bandS(c[0], up, c[0], lo, 'rgba(245,140,70,0.45)', 3, 2));
});
orangeCurves.forEach(c => series.push(lineS(c[0], c[1], '#ff6a10', 2.6, 3, {z: 6})));

series.push({type: 'custom', xAxisIndex: 3, yAxisIndex: 3, clip: false, z: 20, silent: true, animation: false,
  data: epL.map((l, i) => [l, epE[i], epErr[i]]),
  renderItem: function (p, api) {
    const x = api.value(0), y = api.value(1), e = api.value(2);
    const c = api.coord([x, y]), t = api.coord([x, y + e]), b = api.coord([x, y - e]);
    const st = {stroke: '#000', lineWidth: 2.6};
    return {type: 'group', children: [
      {type: 'line', shape: {x1: c[0], y1: t[1], x2: c[0], y2: b[1]}, style: st},
      {type: 'line', shape: {x1: c[0] - 7, y1: t[1], x2: c[0] + 7, y2: t[1]}, style: st},
      {type: 'line', shape: {x1: c[0] - 7, y1: b[1], x2: c[0] + 7, y2: b[1]}, style: st},
      {type: 'rect', shape: {x: c[0] - 5.5, y: c[1] - 5.5, width: 11, height: 11}, style: {fill: '#fff', stroke: '#000', lineWidth: 2.4}}
    ]};
  }});

// ---- graphic texts & boxes ----
function txt(x, y, text, size, color, italic, align, extra) {
  return Object.assign({type: 'text', x: x, y: y, z: 50, silent: true, style: {
    text: text, fill: color, fontSize: size, fontFamily: FONT, fontStyle: italic ? 'italic' : 'normal',
    align: align || 'left', textAlign: align || 'left', verticalAlign: 'middle', textVerticalAlign: 'middle'}}, extra || {});
}
function richTxt(x, y, text, size, rich, align, extra) {
  return Object.assign({type: 'text', x: x, y: y, z: 50, silent: true, style: {
    text: text, rich: rich, fill: '#000', fontSize: size, fontFamily: FONT,
    align: align || 'left', textAlign: align || 'left', verticalAlign: 'middle', textVerticalAlign: 'middle'}}, extra || {});
}
function mathRich(size) {
  const sub = Math.round(size * 0.66);
  return {
    n: {fontSize: size, fontFamily: FONT, fill: '#000', lineHeight: size * 1.3},
    i: {fontSize: size, fontFamily: FONT, fontStyle: 'italic', fill: '#000', lineHeight: size * 1.3},
    s: {fontSize: sub, fontFamily: FONT, fontStyle: 'italic', fill: '#000', lineHeight: sub, verticalAlign: 'bottom'},
    c: {fontSize: sub, fontFamily: "'Liberation Sans','DejaVu Sans',sans-serif", fill: '#000', lineHeight: sub, verticalAlign: 'bottom'},
    p: {fontSize: sub, fontFamily: FONT, fill: '#000', lineHeight: sub, verticalAlign: 'top'}
  };
}
const RED = '#c4240a';
const elements = [
  // red rounded boxes (cut by the right edge)
  {type: 'rect', z: 40, silent: true, shape: {x: 2312, y: -200, width: 700, height: 363, r: 37}, style: {fill: '#fff', stroke: RED, lineWidth: 24}},
  {type: 'rect', z: 40, silent: true, shape: {x: 2443, y: 456, width: 600, height: 210, r: 37}, style: {fill: '#fff', stroke: RED, lineWidth: 24}},
  {type: 'rect', z: 40, silent: true, shape: {x: 2456, y: 787, width: 600, height: 169, r: 37}, style: {fill: '#fff', stroke: RED, lineWidth: 24}},
  {type: 'rect', z: 40, silent: true, shape: {x: 2640, y: 1188, width: 400, height: 157, r: 37}, style: {fill: '#fff', stroke: RED, lineWidth: 24}},
  txt(2343, -26, 'Analytic continuation:', 86, '#000', true),
  txt(2343, 83, 'widths, form factors', 86, '#000', true),
  txt(2497, 560, 'Scattering amplitudes', 88, '#000', true),
  txt(2493, 869, 'Amplitude analysis', 88, '#000', true),
  // credits
  txt(32, 1925, 'Woss, Dudek,', 86, '#a6a9a7', false),
  txt(32, 2032, 'Edwards, Thomas, Wilson (2020)', 86, '#a6a9a7', false),
  // axis names
  richTxt(2012, 38, '{n|Re(}{i|a}{s|t}{n|√}{i|s}{n|)}', 40, mathRich(40)),
  richTxt(900, 265, '{n|2 · Im(}{i|a}{s|t}{n|√}{i|s}{n|)}', 38, mathRich(38), 'center', {rotation: Math.PI / 2}),
  richTxt(25, 352, '{i|ρ}{s|a}{i|ρ}{s|b}{n||}{i|t}{s|ab}{n||}{p|2}', 42, mathRich(42)),
  richTxt(1398, 1112, '{i|a}{s|t}{i|E}{c|cm}', 42, mathRich(42)),
  richTxt(2588, 2048, '{i|L/a}{s|s}', 46, mathRich(46)),
  txt(1332, 446, '(a)', 32, '#000', false, 'center'),
  txt(1331, 837, '(b)', 32, '#000', false, 'center'),
  // channel labels
  txt(531, 637, '(η¹η⁸{¹P₁}|η¹η⁸{¹P₁})', 27, '#2a6db5', true),
  txt(883, 475, '(ω⁸η⁸{³P₁}|ω⁸η⁸{³P₁})', 27, '#d0343a', true),
  txt(993, 620, '(f₁⁸η⁸{³S₁}|f₁⁸η⁸{³S₁})', 27, '#3d8c84', true),
  txt(1160, 543, '(h₁⁸η⁸{³S₁}|h₁⁸η⁸{³S₁})', 27, '#861a86', true),
  txt(569, 937, '(η¹η⁸{¹P₁}|ω⁸η⁸{³P₁})', 27, '#d0343a', true),
  txt(956, 1049, '(η¹η⁸{¹P₁}|f₁⁸η⁸{³S₁})', 27, '#3d8c84', true),
  txt(1193, 1056, '(η¹η⁸{¹P₁}|h₁⁸η⁸{³S₁})', 27, '#861a86', true)
];

const option = {
  animation: false,
  backgroundColor: '#fff',
  grid: [
    {left: 1015, top: 51, width: 1107, height: 348, containLabel: false, outerBoundsMode: 'none'},
    {left: 100, top: 400, width: 1248, height: 316, containLabel: false, outerBoundsMode: 'none'},
    {left: 100, top: 783, width: 1248, height: 315, containLabel: false, outerBoundsMode: 'none'},
    {left: 1443, top: 1144, width: 1136, height: 891, containLabel: false, outerBoundsMode: 'none'}
  ],
  xAxis: [
    tickAxis({g: 0, min: 0.427, max: 0.484, pos: 'top', onZero: true, ticks: poleTicks, labels: poleLabels, fmt: v => v.toFixed(2), fs: 30, margin: -12, lw: 2}),
    tickAxis({g: 1, min: 0.427, max: 0.4841, pos: 'bottom', ticks: panelTicks, labels: panelTicks, fmt: v => v.toFixed(2), fs: 33, margin: 8, lw: 3, tl: 12}),
    tickAxis({g: 2, min: 0.427, max: 0.4841, pos: 'bottom', ticks: panelTicks, labels: panelTicks, fmt: v => v.toFixed(2), fs: 33, margin: 8, lw: 3, tl: 12}),
    tickAxis({g: 3, min: eLRange[0], max: eLRange[1], pos: 'bottom', ticks: eXTicks, labels: eXTicks, fmt: v => String(v), fs: 40, margin: 10, lw: 2.5, tl: 14})
  ],
  yAxis: [
    tickAxis({g: 0, min: -0.0177, max: 0.0011, pos: 'left', ticks: [-0.01], labels: [-0.01], fmt: v => v.toFixed(2), fs: 30, margin: 12, lw: 2}),
    tickAxis({g: 1, min: 0, max: 0.55, pos: 'left', ticks: panelYTicks, labels: panelYTicks, fmt: v => v.toFixed(1), fs: 33, margin: 14, lw: 1.6, tl: 10}),
    tickAxis({g: 2, min: 0, max: 0.55, pos: 'left', ticks: panelYTicks, labels: panelYTicks, fmt: v => v.toFixed(1), fs: 33, margin: 14, lw: 1.6, tl: 10}),
    tickAxis({g: 3, min: 0.377, max: 0.4822, pos: 'left', ticks: eYTicks, labels: eYTicks, fmt: v => v.toFixed(2), fs: 40, margin: 12, lw: 2.5, tl: 14})
  ],
  series: series,
  graphic: {elements: elements}
};
chart.setOption(option);
</script></body></html>
